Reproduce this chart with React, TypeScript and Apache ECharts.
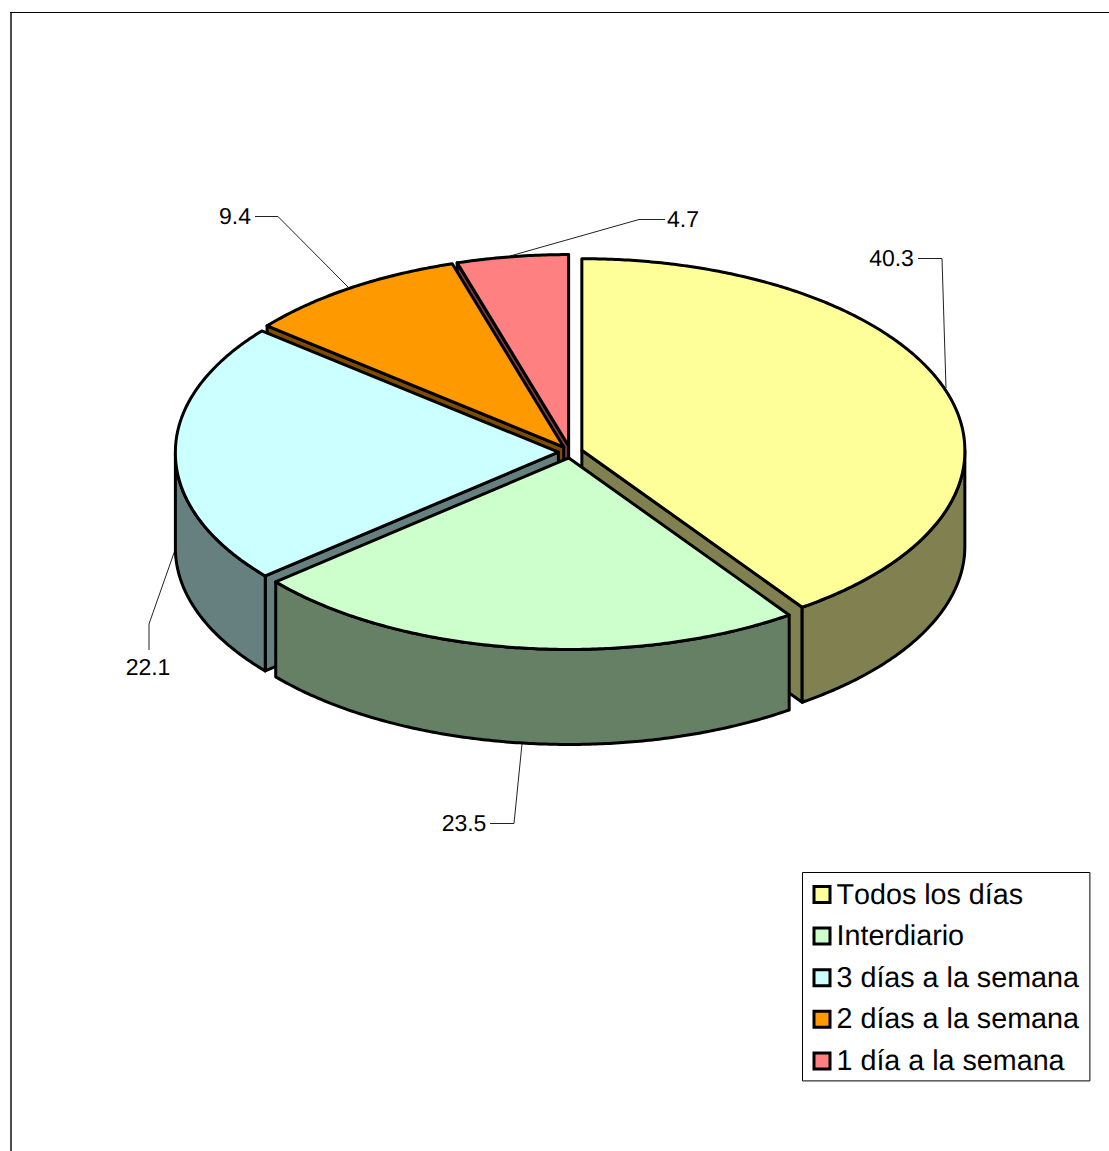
import React, { useEffect, useRef } from "react";
import * as echarts from "echarts";

const categories = ["Todos los días", "Interdiario", "3 días a la semana", "2 días a la semana", "1 día a la semana"];
const values = [40.3, 23.5, 22.1, 9.4, 4.7];
const topColors = ["#FFFF99", "#CCFFCC", "#CCFFFF", "#FF9900", "#FF8080"];
const sideColors = ["#808050", "#668066", "#668080", "#804D00", "#804040"];
// Back-to-front painting order of the slices.
const paintOrder = [4, 3, 2, 0, 1];

const FONT = "Liberation Sans";
const CX = 570.4;
const CY = 452;
const RX = 383;
const RY = 191.5;
const DEPTH = 95;
const EXPLODE = 12;
// The near half of the pie widens slightly under the chart's 3D projection.
const NEAR_WIDEN = 0.006;

// Callout text position and leader path per slice.
const calloutText = [
  { x: 891.5, y: 258 },
  { x: 464, y: 823 },
  { x: 148, y: 667 },
  { x: 235, y: 216 },
  { x: 683, y: 219 },
];
const calloutLines = [
  [[918, 258.5], [942, 258.5], [946, 388]],
  [[490, 823.5], [514, 823.5], [522, 744]],
  [[149, 650], [149, 624], [175, 550]],
  [[255, 216.5], [278, 216.5], [348, 287]],
  [[665, 219.5], [639, 219.5], [510, 256]],
];

const total = values.reduce((a, b) => a + b, 0);
const startAngles = values.map((_, i) => (values.slice(0, i).reduce((a, b) => a + b, 0) / total) * 360);

const rad = (d: number) => (d * Math.PI) / 180;

function renderSlice(index: number) {
  return (_params: any, api: any) => {
    const t0 = startAngles[index];
    const t1 = t0 + (api.value(0) / total) * 360;
    const mid = rad((t0 + t1) / 2);
    const ox = CX + EXPLODE * Math.sin(mid);
    const oy = CY - (EXPLODE * Math.cos(mid) * RY) / RX;
    const rim = (t: number, drop = 0) => {
      const c = Math.cos(rad(t));
      const widen = 1 + NEAR_WIDEN * Math.max(0, -c);
      return [ox + RX * widen * Math.sin(rad(t)), oy - RY * c + drop];
    };
    const arc = (a: number, b: number, drop = 0) => {
      const n = Math.max(2, Math.ceil(Math.abs(b - a) * 2));
      return Array.from({ length: n + 1 }, (_, k) => rim(a + ((b - a) * k) / n, drop));
    };
    const stroke = { stroke: "#000", lineWidth: 3, lineJoin: "round" };
    const side = { ...stroke, fill: sideColors[index] };
    const children: any[] = [];
    const radialWall = (t: number) =>
      children.push({
        type: "polygon",
        shape: { points: [[ox, oy], rim(t), rim(t, DEPTH), [ox, oy + DEPTH]] },
        style: side,
      });
    if (Math.sin(rad(t0)) < -1e-6) radialWall(t0);
    if (Math.sin(rad(t1)) > 1e-6) radialWall(t1);
    const a = Math.max(t0, 90);
    const b = Math.min(t1, 270);
    if (b > a) {
      children.push({
        type: "polygon",
        shape: { points: [...arc(a, b), ...arc(b, a, DEPTH)] },
        style: side,
      });
    }
    children.push({
      type: "polygon",
      shape: { points: [[ox, oy], ...arc(t0, t1)] },
      style: { ...stroke, fill: topColors[index] },
    });
    return { type: "group", children };
  };
}

export default function App() {
  const ref = useRef<HTMLDivElement>(null);
  useEffect(() => {
    const chart = echarts.init(ref.current!, undefined, { renderer: "svg" });
    chart.setOption({
      animation: false,
      backgroundColor: "#fff",
      legend: {
        data: categories,
        orient: "vertical",
        left: 802.5,
        top: 872.5,
        padding: [7, 11, 5, 10],
        itemWidth: 16,
        itemHeight: 16,
        itemGap: 11.6,
        backgroundColor: "#fff",
        borderColor: "#000",
        borderWidth: 1,
        borderRadius: 0,
        selectedMode: false,
        icon: "rect",
        itemStyle: { borderColor: "#000", borderWidth: 3 },
        textStyle: { fontFamily: FONT, fontSize: 28.7, color: "#000", lineHeight: 30, padding: [0, 0, 0, 1.5] },
      },
      series: paintOrder.map((i) => ({
        type: "custom",
        name: categories[i],
        coordinateSystem: "none",
        silent: true,
        itemStyle: { color: topColors[i] },
        data: [[values[i]]],
        renderItem: renderSlice(i),
      })),
      graphic: [
        {
          type: "line",
          silent: true,
          shape: { x1: 11, y1: 12, x2: 11, y2: 1151 },
          style: { stroke: "#000", lineWidth: 1.4 },
        },
        {
          type: "line",
          silent: true,
          shape: { x1: 10, y1: 12.5, x2: 1109, y2: 12.5 },
          style: { stroke: "#000", lineWidth: 1 },
        },
        ...calloutLines.map((points) => ({
          type: "polyline",
          silent: true,
          shape: { points },
          style: { fill: "none", stroke: "#222", lineWidth: 1 },
        })),
        ...values.map((v, i) => ({
          type: "text",
          silent: true,
          x: calloutText[i].x,
          y: calloutText[i].y,
          style: {
            text: v.toFixed(1),
            fontFamily: FONT,
            fontSize: 23,
            fill: "#000",
            align: "center",
            verticalAlign: "middle",
          },
        })),
      ],
    });
    return () => chart.dispose();
  }, []);
  return (
    <div
      ref={ref}
      style={{
        position: "absolute",
        left: 0,
        top: 0,
        width: 1109,
        height: 1151,
        fontKerning: "none",
        textRendering: "geometricPrecision",
      }}
    />
  );
}
